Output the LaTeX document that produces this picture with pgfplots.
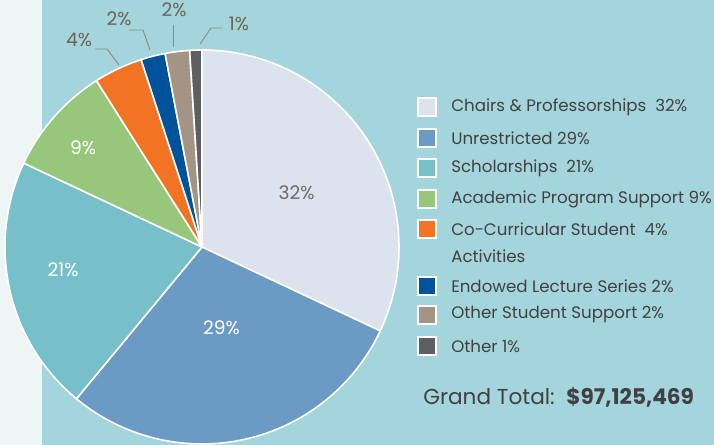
\documentclass[border=0pt]{standalone}
\usepackage{pgfplots}
\pgfplotsset{compat=1.18}
\usepackage{fontspec}
\setmainfont{Poppins}
\definecolor{bgL}{HTML}{EDF6F5}
\definecolor{bgT}{HTML}{A4D5DC}
\definecolor{cA}{HTML}{DCE3EE}
\definecolor{cB}{HTML}{6B9AC4}
\definecolor{cC}{HTML}{77C0C9}
\definecolor{cD}{HTML}{97C77A}
\definecolor{cE}{HTML}{F37324}
\definecolor{cF}{HTML}{00529B}
\definecolor{cG}{HTML}{A39485}
\definecolor{cH}{HTML}{5E5F62}
\definecolor{txt}{HTML}{414042}
\definecolor{outl}{HTML}{6D6354}
\definecolor{lead}{HTML}{8C8A86}
\newcommand{\pieslice}[3]{%
  \fill[#3, draw=white, line width=1.2pt, line join=round]
    (axis cs:0,0) -- ++({90-3.6*#1}:147.75pt)
    arc[start angle={90-3.6*#1}, end angle={90-3.6*(#1+#2)}, radius=147.75pt] -- cycle;}
\begin{document}
\begin{tikzpicture}[x=0.75pt,y=0.75pt]
\useasboundingbox (0,0) rectangle (714,445);
\fill[bgL] (0,0) rectangle (42,445);
\fill[bgT] (42,0) rectangle (714,445);
\begin{axis}[at={(151.5pt,148.5pt)}, anchor=center, x=147.75pt, y=147.75pt,
  xmin=-1, xmax=1, ymin=-1, ymax=1, hide axis, clip=false]
% start (cumulative %), value (%), colour
\pieslice{0}{32}{cA}
\pieslice{32}{29}{cB}
\pieslice{61}{21}{cC}
\pieslice{82}{9}{cD}
\pieslice{91}{4}{cE}
\pieslice{95}{2}{cF}
\pieslice{97}{2}{cG}
\pieslice{99}{1}{cH}
\end{axis}
% inside labels
\begin{scope}[font=\fontsize{14}{16}\selectfont]
\node[text=gray!85!black] at (296.5,252.5) {32\%};
\node[text=white] at (221.5,117) {29\%};
\node[text=white] at (63,175.5) {21\%};
\node[text=white] at (83,297) {9\%};
\end{scope}
% outer labels
\begin{scope}[font=\fontsize{14}{16}\selectfont, text=outl]
\draw[lead, line width=0.7pt] (95,396) -- (107,396) -- (119,380);
\node at (79,405) {4\%};
\draw[lead, line width=0.7pt] (129,415) -- (143,415) -- (150,395);
\node at (119,426) {2\%};
\draw[lead, line width=0.7pt] (173,420) -- (173,398);
\node at (174,435) {2\%};
\draw[lead, line width=0.7pt] (222,417) -- (211,417) -- (200,401);
\node at (239,421) {1\%};
\end{scope}
% legend
\begin{scope}[font=\fontsize{12.5}{14}\selectfont]
\foreach \Y/\c/\t in {338/cA/{Chairs \& Professorships\ \ 32\%},
  307/cB/{Unrestricted 29\%},
  277/cC/{Scholarships\ \ 21\%},
  246/cD/{Academic Program Support 9\%},
  216/cE/{Co-Curricular Student\ \ 4\%},
  159/cF/{Endowed Lecture Series 2\%},
  130/cG/{Other Student Support 2\%},
  99/cH/{Other 1\%}}{
  \filldraw[fill=\c, draw=white, line width=0.8pt] (418,\Y-9) rectangle (436,\Y+9);
  \node[anchor=west, text=txt, inner sep=0pt] at (451,\Y) {\t};
}
\node[anchor=west, text=txt, inner sep=0pt] at (451,189) {Activities};
\node[anchor=base west, text=txt, inner sep=0pt, font=\fontsize{16.2}{18}\selectfont] at (423,40) {Grand Total:\ \ \textbf{\$97,125,469}};
\end{scope}
\end{tikzpicture}
\end{document}
